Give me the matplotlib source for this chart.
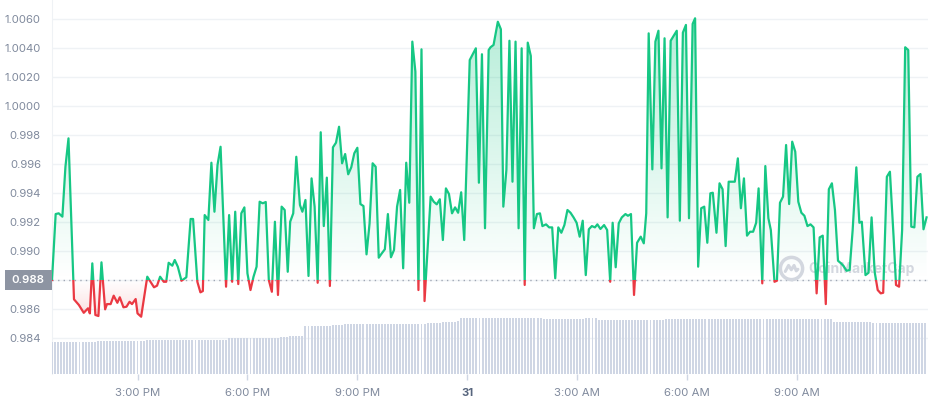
import numpy as np
import matplotlib.pyplot as plt
from matplotlib.colors import to_rgb
from matplotlib.path import Path
from matplotlib.patches import Rectangle
from matplotlib.transforms import blended_transform_factory

plt.rcParams['font.family'] = ['Inter', 'DejaVu Sans']

# minutes after 12:00 PM on the 30th
times = [40, 46, 51, 57, 62, 67, 76, 84, 92, 99, 102, 106, 111, 116, 121, 127, 130, 136, 141, 147,
         151, 157, 162, 167, 171, 177, 180, 186, 196, 207, 212, 217, 223, 227, 231, 237, 241, 246, 252, 260,
         267, 271, 278, 283, 287, 290, 296, 301, 306, 311, 316, 325, 330, 335, 340, 345, 350, 355, 360, 365,
         370, 375, 380, 385, 390, 395, 400, 405, 410, 416, 421, 426, 430, 435, 440, 446, 450, 455, 460, 465,
         470, 475, 480, 485, 490, 495, 500, 505, 510, 515, 520, 525, 530, 535, 540, 545, 550, 555, 560, 565,
         570, 575, 580, 585, 590, 595, 600, 605, 610, 615, 620, 625, 630, 635, 640, 645, 650, 660, 665, 670,
         675, 680, 685, 690, 695, 700, 705, 710, 715, 724, 729, 734, 739, 744, 749, 755, 758, 763, 770, 775,
         779, 784, 789, 794, 799, 804, 809, 814, 819, 824, 829, 834, 839, 843, 849, 854, 859, 864, 869, 874,
         879, 884, 889, 894, 899, 904, 909, 914, 919, 924, 929, 933, 938, 944, 949, 954, 958, 963, 968, 973,
         979, 983, 988, 993, 998, 1004, 1009, 1013, 1017, 1023, 1028, 1033, 1038, 1043, 1048, 1053, 1063, 1068, 1073, 1078,
         1083, 1089, 1093, 1098, 1103, 1108, 1113, 1118, 1122, 1128, 1133, 1138, 1143, 1148, 1158, 1163, 1168, 1173, 1178, 1183,
         1188, 1193, 1197, 1203, 1208, 1213, 1217, 1223, 1227, 1232, 1237, 1242, 1247, 1252, 1257, 1262, 1267, 1272, 1277, 1282,
         1287, 1292, 1297, 1302, 1307, 1312, 1317, 1322, 1327, 1332, 1336, 1341, 1346, 1351, 1357, 1362, 1366, 1372, 1377, 1382,
         1387, 1392, 1397, 1401, 1407, 1412, 1418, 1422, 1427, 1432, 1437, 1442, 1447, 1452, 1457, 1462, 1467, 1472]

prices = [0.98800, 0.99255, 0.99260, 0.99237, 0.99581, 0.99777, 0.98667, 0.98628, 0.98574, 0.98605,
          0.98570, 0.98915, 0.98559, 0.98552, 0.98922, 0.98598, 0.98634, 0.98634, 0.98692, 0.98643,
          0.98681, 0.98612, 0.98616, 0.98650, 0.98634, 0.98669, 0.98570, 0.98547, 0.98823, 0.98750,
          0.98761, 0.98823, 0.98788, 0.98788, 0.98919, 0.98899, 0.98938, 0.98892, 0.98795, 0.98819,
          0.99221, 0.99221, 0.98788, 0.98715, 0.98724, 0.99248, 0.99214, 0.99609, 0.99271, 0.99593,
          0.99719, 0.98754, 0.99248, 0.98788, 0.99271, 0.98772, 0.99260, 0.99301, 0.98846, 0.98731,
          0.98823, 0.98892, 0.99340, 0.99329, 0.99338, 0.98800, 0.98719, 0.99202, 0.98697, 0.99306,
          0.99283, 0.98857, 0.99202, 0.99260, 0.99650, 0.99317, 0.99271, 0.99352, 0.98828, 0.99501,
          0.99306, 0.98781, 0.99819, 0.99172, 0.99506, 0.98759, 0.99715, 0.99747, 0.99857, 0.99605,
          0.99669, 0.99529, 0.99577, 0.99674, 0.99712, 0.99324, 0.99310, 0.98977, 0.99191, 0.99605,
          0.99581, 0.98954, 0.98984, 0.99012, 0.99255, 0.98957, 0.99007, 0.99306, 0.99421, 0.98881,
          0.99609, 0.99333, 1.00444, 1.00237, 0.98731, 1.00391, 0.98655, 0.99375, 0.99340, 0.99322,
          0.99357, 0.99076, 0.99432, 0.99393, 0.99260, 0.99301, 0.99264, 0.99405, 0.99076, 1.00317,
          1.00357, 1.00398, 0.99471, 1.00357, 0.99157, 1.00386, 1.00405, 1.00421, 1.00581, 1.00529,
          0.99306, 0.99559, 1.00450, 0.99478, 1.00444, 0.99157, 1.00398, 0.98766, 1.00437, 1.00345,
          0.99157, 0.99255, 0.99260, 0.99172, 0.99184, 0.99163, 0.99163, 0.98812, 0.99163, 0.99126,
          0.99179, 0.99283, 0.99264, 0.99232, 0.99195, 0.99099, 0.99209, 0.98834, 0.99150, 0.99172,
          0.99163, 0.99184, 0.99152, 0.99179, 0.99145, 0.98788, 0.99195, 0.98888, 0.99191, 0.99232,
          0.99255, 0.99243, 0.99255, 0.98697, 0.99057, 0.99099, 0.99053, 0.99260, 1.00501, 0.99563,
          1.00444, 1.00519, 0.99570, 1.00467, 0.99232, 1.00450, 1.00519, 0.99209, 1.00506, 1.00559,
          0.99226, 1.00566, 1.00605, 0.98892, 0.99295, 0.99306, 0.99057, 0.99398, 0.99402, 0.99126,
          0.99467, 0.99426, 0.99034, 0.99478, 0.99478, 0.99639, 0.99295, 0.99501, 0.99106, 0.99133,
          0.99133, 0.99195, 0.99432, 0.98777, 0.99586, 0.99226, 0.99145, 0.98788, 0.98795, 0.99333,
          0.99375, 0.99731, 0.99324, 0.99754, 0.99685, 0.99340, 0.99264, 0.99243, 0.99172, 0.99184,
          0.99163, 0.98708, 0.99094, 0.99106, 0.98634, 0.99426, 0.99467, 0.99283, 0.98933, 0.98915,
          0.98897, 0.98864, 0.98869, 0.99145, 0.99577, 0.99195, 0.99202, 0.98834, 0.98850, 0.99232,
          0.98857, 0.98731, 0.98708, 0.98712, 0.99512, 0.99547, 0.99099, 0.98766, 0.98754, 0.99145,
          1.00405, 1.00386, 0.99168, 0.99163, 0.99512, 0.99531, 0.99150, 0.99232]

# 24h volume bars, one every 5 minutes from 12:40 PM (relative units)
volume = [
    3.2, 3.2, 3.2, 3.2, 3.2, 3.2, 3.2, 3.2, 3.2, 3.2, 3.2, 3.2, 3.2, 3.2, 3.2,
    3.3, 3.3, 3.3, 3.3, 3.3, 3.3, 3.3, 3.3, 3.3, 3.3, 3.3, 3.3, 3.3, 3.3, 3.3, 3.3,
    3.4, 3.4, 3.4, 3.4, 3.4, 3.4, 3.4, 3.4, 3.4,
    3.4, 3.4, 3.4, 3.4, 3.4, 3.4, 3.4, 3.4, 3.4,
    3.4, 3.4, 3.4, 3.4, 3.4, 3.4, 3.4, 3.4, 3.4,
    3.6, 3.6, 3.6, 3.6, 3.6, 3.6, 3.6, 3.6, 3.6,
    3.6, 3.6, 3.6, 3.6, 3.6, 3.6, 3.6, 3.6,
    3.7, 3.7, 3.7, 3.8, 3.8, 3.8, 3.8, 3.8,
    4.8, 4.8, 4.8, 4.8, 4.8, 4.8, 4.8, 4.8, 4.8, 4.9, 4.9, 4.9, 4.9,
    5.0, 5.0, 5.0, 5.0, 5.0, 5.0, 5.0, 5.0, 5.0,
    5.0, 5.0, 5.0, 5.0, 5.0, 5.0, 5.0, 5.0, 5.0,
    5.0, 5.0, 5.0, 5.0, 5.0, 5.0, 5.0, 5.0, 5.0,
    5.1, 5.1, 5.1, 5.1, 5.1, 5.2, 5.2, 5.2, 5.2, 5.2, 5.3,
    5.6, 5.6, 5.6, 5.6, 5.6, 5.6, 5.6, 5.6, 5.6,
    5.6, 5.6, 5.6, 5.6, 5.6, 5.6, 5.6, 5.6, 5.6,
    5.6, 5.6, 5.6, 5.6, 5.6, 5.6, 5.6, 5.6, 5.6,
    5.55, 5.55, 5.55, 5.55, 5.55, 5.55, 5.55, 5.55,
    5.5, 5.5, 5.5, 5.5, 5.5, 5.5, 5.6, 5.6, 5.6, 5.6,
    5.4, 5.4, 5.4, 5.4, 5.4, 5.4, 5.4, 5.4, 5.4, 5.4, 5.4,
    5.4, 5.4, 5.4, 5.4, 5.4, 5.4, 5.4, 5.4, 5.4, 5.4, 5.4,
    5.5, 5.5, 5.5, 5.5, 5.5, 5.5, 5.5, 5.5, 5.5, 5.5, 5.5,
    5.5, 5.5, 5.5, 5.5, 5.5, 5.5, 5.5, 5.5, 5.5, 5.5, 5.5,
    5.5, 5.5, 5.5, 5.5, 5.5, 5.5, 5.5, 5.5, 5.5, 5.5, 5.5,
    5.5, 5.5, 5.5, 5.5, 5.5, 5.5, 5.5, 5.5, 5.5, 5.5, 5.5,
    5.5, 5.5, 5.5, 5.5, 5.5, 5.5, 5.5, 5.5, 5.5, 5.5, 5.5,
    5.2, 5.2, 5.2, 5.2, 5.2, 5.2, 5.2, 5.2, 5.2, 5.2, 5.2, 5.2, 5.2,
    5.1, 5.1, 5.1, 5.1, 5.1, 5.1, 5.1, 5.1, 5.1,
    5.1, 5.1, 5.1, 5.1, 5.1, 5.1, 5.1, 5.1, 5.1,
]
vol_start = 40

tick_minutes = [180, 360, 540, 720, 900, 1080, 1260]
tick_labels = ['3:00 PM', '6:00 PM', '9:00 PM', '31', '3:00 AM', '6:00 AM', '9:00 AM']
price_ticks = [0.984, 0.986, 0.988, 0.990, 0.992, 0.994, 0.996, 0.998, 1.000, 1.002, 1.004, 1.006]
price_labels = ['0.984', '0.986', '', '0.990', '0.992', '0.994', '0.996', '0.998',
                '1.0000', '1.0020', '1.0040', '1.0060']
open_price = 0.988

GREEN = '#16c784'
RED = '#ea3943'
LABEL = '#808a9d'
MARK = '#d3d7df'

t = np.array(times, dtype=float)
p = np.array(prices)
vt = vol_start + 5 * np.arange(len(volume))

fig = plt.figure(figsize=(9.29, 4), dpi=100)
rect = [52 / 929, 26 / 400, 877 / 929, 374 / 400]
ax = fig.add_axes(rect)
axv = fig.add_axes(rect)
axv.patch.set_visible(False)

xlim = (40, 1476)
ylim = (0.98152, 1.00731)


def gradient_fill(where, bottom, top, a_bottom, a_top, color):
    coll = ax.fill_between(t, p, open_price, where=where, interpolate=True,
                           facecolor='none', edgecolor='none')
    path = Path.make_compound_path(*coll.get_paths())
    img = np.zeros((256, 1, 4))
    img[..., :3] = to_rgb(color)
    img[:, 0, 3] = np.linspace(a_bottom, a_top, 256)
    im = ax.imshow(img, extent=[t[0], t[-1], bottom, top], origin='lower',
                   aspect='auto', interpolation='bilinear', zorder=1)
    im.set_clip_path(path, transform=ax.transData)


gradient_fill(p >= open_price, open_price, 1.0065, 0.0, 0.32, GREEN)
gradient_fill(p <= open_price, 0.9855, open_price, 0.16, 0.0, RED)

g, = ax.plot(t, p, color=GREEN, lw=1.6, zorder=3, solid_joinstyle='round')
g.set_clip_path(Rectangle((0, open_price), 2000, 1, transform=ax.transData))
r, = ax.plot(t, p, color=RED, lw=1.6, zorder=3, solid_joinstyle='round')
r.set_clip_path(Rectangle((0, open_price - 1), 2000, 1, transform=ax.transData))

ax.axhline(open_price, color='#a0a7b4', lw=1, linestyle=(0, (1, 3)), zorder=2)

ax.set_xlim(xlim)
ax.set_ylim(ylim)
ax.set_yticks(price_ticks)
ax.set_yticklabels(price_labels)
ax.set_xticks(tick_minutes)
ax.set_xticklabels(tick_labels)
ax.grid(axis='y', color='#eff2f5', lw=1)
ax.set_axisbelow(True)
ax.tick_params(axis='y', length=0, pad=8, labelcolor=LABEL, labelsize=8.2)
ax.tick_params(axis='x', length=4, width=1, color='#cfd6e4', pad=6,
               labelcolor=LABEL, labelsize=8.2)
for lab in ax.get_xticklabels():
    if lab.get_text() == '31':
        lab.set_fontweight('bold')
        lab.set_color('#58667e')
for s in ['top', 'right', 'bottom']:
    ax.spines[s].set_visible(False)
ax.spines['left'].set_color('#eff2f5')

# volume bars
axv.bar(vt, volume, width=3.2, color='#cfd6e4', linewidth=0)
axv.set_xlim(xlim)
axv.set_ylim(0, 37.4)
axv.axis('off')

# current price tag on the axis
blend = blended_transform_factory(ax.transAxes, ax.transData)
ax.add_patch(Rectangle((-47 / 877, open_price - 0.00068), 47 / 877, 0.00136,
                       transform=blend, clip_on=False, facecolor='#8d94a2',
                       edgecolor='none', zorder=5))
ax.text(-8 / 877, open_price, '0.988', transform=blend, ha='right', va='center',
        color='white', fontsize=8.2, fontweight='semibold', zorder=6)

# watermark: ring with a small zigzag, then the name
cx, cy = 0.843, 0.283
ax.plot([cx], [cy], marker='o', ms=16, mfc='none', mec=MARK, mew=2.5,
        transform=ax.transAxes, zorder=2)
rx, ry = 11 / 877, 11 / 374
zig_x = [-0.55, -0.25, 0.0, 0.25, 0.45, 0.6]
zig_y = [-0.3, 0.25, -0.15, 0.25, -0.25, -0.1]
ax.plot([cx + rx * a for a in zig_x], [cy + ry * b for b in zig_y], color=MARK, lw=2.2,
        transform=ax.transAxes, zorder=2, solid_joinstyle='round', solid_capstyle='round')
ax.text(0.863, 0.281, 'CoinMarketCap', transform=ax.transAxes, ha='left', va='center',
        color=MARK, fontsize=10, fontweight='bold', zorder=2)

fig.savefig('out.png', dpi=100)
